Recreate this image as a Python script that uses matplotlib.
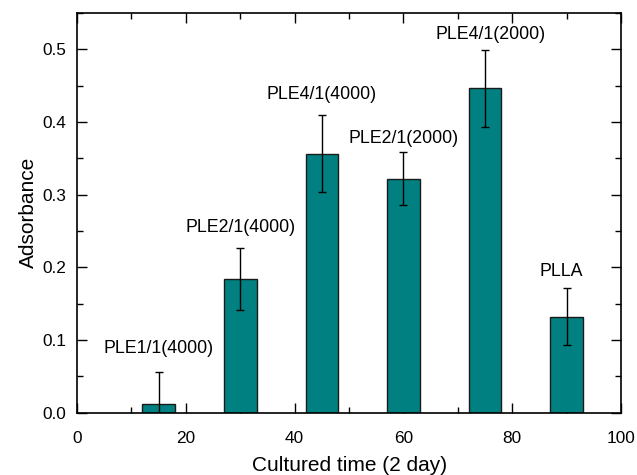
import matplotlib
matplotlib.use("Agg")
import matplotlib.pyplot as plt
from matplotlib.ticker import MultipleLocator

plt.rcParams["font.family"] = ["Liberation Sans", "DejaVu Sans"]

# data
times = [15, 30, 45, 60, 75, 90]
absorbance = [0.012, 0.184, 0.356, 0.322, 0.446, 0.132]
errors = [0.044, 0.042, 0.053, 0.036, 0.053, 0.039]
names = ["PLE1/1(4000)", "PLE2/1(4000)", "PLE4/1(4000)",
         "PLE2/1(2000)", "PLE4/1(2000)", "PLLA"]

# label offsets above the error bar tops (points)
label_dy = [11, 9, 9, 4, 5, 6]
label_dx = [0, 0, 0, 0, 1, -1]

fig = plt.figure(figsize=(6.37, 4.75), dpi=100)
ax = fig.add_axes([0.121, 0.131, 0.854, 0.842])

ax.bar(times, absorbance, width=6, color="#008080", edgecolor="#1a1a1a",
       linewidth=1.0, zorder=2)
ax.errorbar(times, absorbance, yerr=errors, fmt="none", ecolor="black",
            elinewidth=1.0, capsize=2.6, capthick=1.0, zorder=3)

for x, y, e, name, dy, dx in zip(times, absorbance, errors, names, label_dy, label_dx):
    ax.annotate(name, (x, y + e), textcoords="offset points", xytext=(dx * 4, dy),
                ha="center", va="bottom", fontsize=12.8)

ax.set_xlim(0, 100)
ax.set_ylim(0, 0.55)
ax.xaxis.set_major_locator(MultipleLocator(20))
ax.xaxis.set_minor_locator(MultipleLocator(10))
ax.yaxis.set_minor_locator(MultipleLocator(0.05))
ax.set_yticks([0.0, 0.1, 0.2, 0.3, 0.4, 0.5])
ax.set_yticklabels(["0.0", "0.1", "0.2", "0.3", "0.4", "0.5"])
ax.tick_params(which="both", direction="in", top=True, right=True, labelsize=12.4)
ax.tick_params(which="major", length=7, width=1)
ax.tick_params(which="minor", length=4, width=1)
ax.tick_params(axis="x", pad=13)
ax.tick_params(axis="y", pad=8)
for s in ax.spines.values():
    s.set_linewidth(1.2)

ax.set_xlabel("Cultured time (2 day)", fontsize=15, labelpad=7)
ax.set_ylabel("Adsorbance", fontsize=15, labelpad=3)

fig.savefig("out.png", dpi=100)
